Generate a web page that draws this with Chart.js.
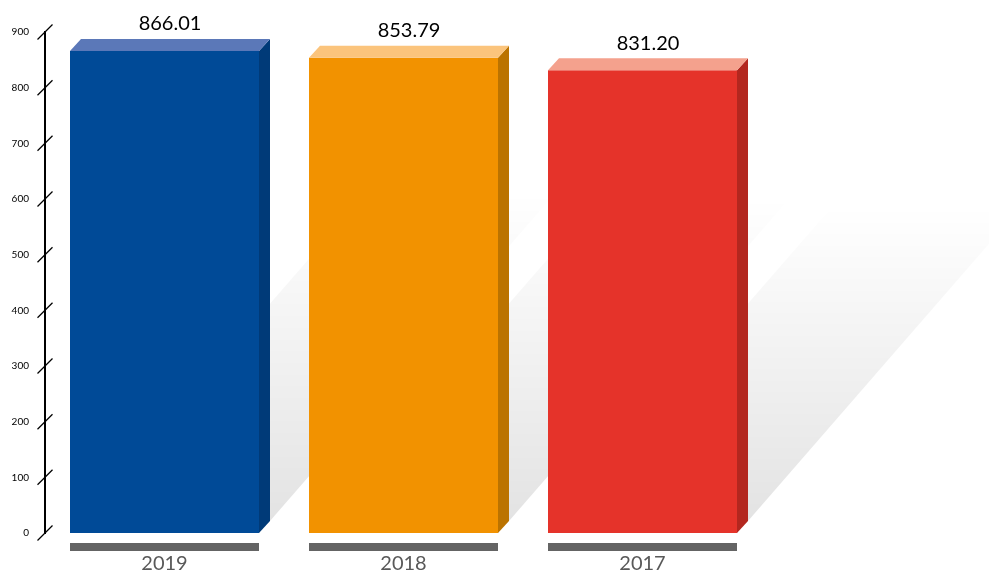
<!DOCTYPE html>
<html><head><meta charset="utf-8">
<script src="https://cdn.jsdelivr.net/npm/chart.js@4.4.1/dist/chart.umd.min.js"></script>
<style>html,body{margin:0;padding:0;background:#fff;overflow:hidden;}</style>
</head><body>
<canvas id="c" width="989" height="574"></canvas>
<script>
const categories = ['2019', '2018', '2017'];
const values = [866.01, 853.79, 831.20];
const valueLabels = ['866.01', '853.79', '831.20'];
const yTickValues = [0, 100, 200, 300, 400, 500, 600, 700, 800, 900];
const frontColors = ['#004a97', '#f29200', '#e5332a'];
const sideColors = ['#003a78', '#bb7300', '#b3271f'];
const topColors = ['#5b78b8', '#fbc47c', '#f4a18d'];

const DX = 11, DY = 12;

const bar3d = {
  id: 'bar3d',
  beforeDatasetsDraw(chart) {
    const ctx = chart.ctx;
    const meta = chart.getDatasetMeta(0);
    meta.data.forEach((bar) => {
      const p = bar.getProps(['x', 'y', 'base', 'width'], true);
      const l = p.x - p.width / 2, r = p.x + p.width / 2;
      const by = p.base - DY;
      const h = (p.base - p.y) * 0.68;
      const sx = h / 1.15;
      ctx.save();
      const g = ctx.createLinearGradient(0, by, 0, by - h);
      g.addColorStop(0, 'rgba(0,0,0,0.11)');
      g.addColorStop(1, 'rgba(0,0,0,0)');
      ctx.fillStyle = g;
      ctx.beginPath();
      ctx.moveTo(l + DX, by);
      ctx.lineTo(r + DX, by);
      ctx.lineTo(r + DX + sx, by - h);
      ctx.lineTo(l + DX + sx, by - h);
      ctx.closePath();
      ctx.fill();
      ctx.restore();
    });
  },
  afterDatasetsDraw(chart) {
    const ctx = chart.ctx;
    const meta = chart.getDatasetMeta(0);
    meta.data.forEach((bar, i) => {
      const p = bar.getProps(['x', 'y', 'base', 'width'], true);
      const l = p.x - p.width / 2, r = p.x + p.width / 2;
      ctx.save();
      // side face
      ctx.fillStyle = sideColors[i];
      ctx.beginPath();
      ctx.moveTo(r, p.y);
      ctx.lineTo(r + DX, p.y - DY);
      ctx.lineTo(r + DX, p.base - DY);
      ctx.lineTo(r, p.base);
      ctx.closePath();
      ctx.fill();
      // top face
      ctx.fillStyle = topColors[i];
      ctx.beginPath();
      ctx.moveTo(l, p.y);
      ctx.lineTo(r, p.y);
      ctx.lineTo(r + DX, p.y - DY);
      ctx.lineTo(l + DX, p.y - DY);
      ctx.closePath();
      ctx.fill();
      // value label
      ctx.fillStyle = '#000';
      ctx.font = '20px Lato';
      ctx.textAlign = 'center';
      ctx.textBaseline = 'middle';
      ctx.fillText(valueLabels[i], p.x + DX / 2, p.y - DY - 15);
      // gray base bar
      ctx.fillStyle = '#646464';
      ctx.fillRect(l, p.base + 10, p.width, 8);
      ctx.restore();
    });
    // slanted y ticks
    const ys = chart.scales.y;
    const ax = chart.chartArea.left;
    ctx.save();
    ctx.strokeStyle = '#000';
    ctx.lineWidth = 1.3;
    ys.ticks.forEach((t) => {
      const py = ys.getPixelForValue(t.value);
      ctx.beginPath();
      ctx.moveTo(ax - 7.5, py + 7.5);
      ctx.lineTo(ax + 7.5, py - 7.5);
      ctx.stroke();
    });
    ctx.restore();
  }
};

new Chart(document.getElementById('c'), {
  type: 'bar',
  data: {
    labels: categories,
    datasets: [{
      data: values,
      backgroundColor: frontColors,
      borderWidth: 0,
      barPercentage: 189 / 239,
      categoryPercentage: 1
    }]
  },
  options: {
    responsive: false,
    animation: false,
    devicePixelRatio: 1,
    layout: { padding: { top: 32, right: 227, left: 0, bottom: 0 } },
    plugins: { legend: { display: false }, tooltip: { enabled: false } },
    scales: {
      x: {
        grid: { display: false, drawTicks: false },
        border: { display: false },
        ticks: { font: { family: 'Lato', size: 20 }, color: '#595959', padding: 19 },
        afterFit(s) { s.height = 41; }
      },
      y: {
        min: 0, max: 900,
        afterBuildTicks(s) { s.ticks = yTickValues.map(v => ({ value: v })); },
        grid: { display: false, drawTicks: false },
        border: { display: true, width: 2, color: '#000' },
        ticks: { font: { family: 'Lato', size: 10 }, color: '#000', padding: 16 },
        afterFit(s) { s.width = 45; }
      }
    }
  },
  plugins: [bar3d]
});
</script>
</body></html>
